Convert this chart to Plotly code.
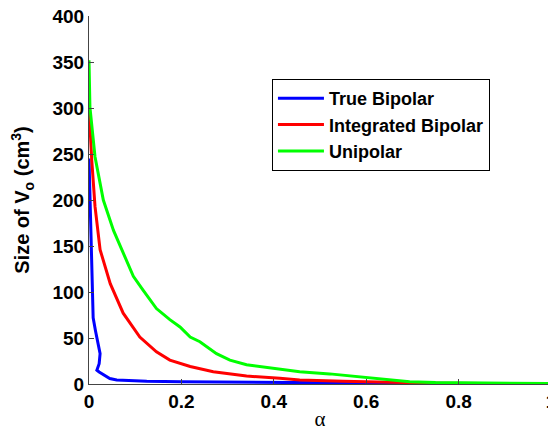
import plotly.graph_objects as go

# Data
true_bipolar_x = [0.0, 0.003, 0.006, 0.009, 0.014, 0.020, 0.024, 0.022, 0.017, 0.022, 0.031, 0.045, 0.060, 0.09, 0.125, 0.2, 0.3, 0.4, 0.5, 0.6, 0.7, 0.8, 0.9, 1.0]
true_bipolar_y = [245, 180, 120, 72, 58, 44, 33, 22, 15, 13, 10, 6, 4.3, 3.6, 3.0, 2.4, 1.9, 1.5, 1.2, 0.9, 0.7, 0.5, 0.4, 0.3]

integrated_x = [0.0, 0.003, 0.006, 0.013, 0.024, 0.046, 0.074, 0.110, 0.146, 0.175, 0.219, 0.269, 0.341, 0.413, 0.456, 0.55, 0.673, 0.75, 0.85, 1.0]
integrated_y = [300, 270, 243, 193, 146, 109, 77, 51, 35, 26, 19, 13.4, 8.7, 6.2, 4.3, 3.0, 1.4, 0.9, 0.6, 0.3]

unipolar_x = [0.0, 0.002, 0.013, 0.031, 0.053, 0.074, 0.096, 0.117, 0.146, 0.175, 0.197, 0.219, 0.240, 0.276, 0.305, 0.341, 0.413, 0.456, 0.521, 0.600, 0.694, 0.75, 0.85, 1.0]
unipolar_y = [352, 301, 247, 200, 167, 142, 117, 102, 82, 70, 62, 51, 46, 33, 26, 21, 16, 13.4, 11, 7, 2.5, 1.5, 1.0, 0.5]

series_names = ["True Bipolar", "Integrated Bipolar", "Unipolar"]
x_ticks = [0, 0.2, 0.4, 0.6, 0.8, 1]
x_tick_labels = ["0", "0.2", "0.4", "0.6", "0.8", "1"]
y_ticks = [0, 50, 100, 150, 200, 250, 300, 350, 400]
y_tick_labels = [str(v) for v in y_ticks]

FAM = "Liberation Sans, Arial, Helvetica, sans-serif"

fig = go.Figure()
fig.add_trace(go.Scatter(x=true_bipolar_x, y=true_bipolar_y, mode="lines", name="<b>" + series_names[0] + "</b>",
                         line=dict(color="#0000ff", width=3)))
fig.add_trace(go.Scatter(x=integrated_x, y=integrated_y, mode="lines", name="<b>" + series_names[1] + "</b>",
                         line=dict(color="#ff0000", width=3)))
fig.add_trace(go.Scatter(x=unipolar_x, y=unipolar_y, mode="lines", name="<b>" + series_names[2] + "</b>",
                         line=dict(color="#00ff00", width=3)))

# The page body has an 8px margin; the figure size compensates so the plot lands where the reference's does.
fig.update_layout(
    width=548, height=423,
    margin=dict(l=81, r=5, t=8, b=47, autoexpand=False),
    paper_bgcolor="white", plot_bgcolor="white",
    showlegend=True,
    legend=dict(
        x=0.396, y=0.829, xanchor="left", yanchor="top",
        bordercolor="black", borderwidth=1, bgcolor="white",
        font=dict(family=FAM, size=18, color="black"),
        tracegroupgap=0, itemwidth=46,
    ),
    xaxis=dict(
        range=[0, 1], tickvals=x_ticks, ticktext=["<b>" + t + "</b>" for t in x_tick_labels],
        showgrid=False, zeroline=False, showline=True, linecolor="#444", linewidth=1,
        ticks="inside", ticklen=5, tickcolor="#444", automargin=False,
        ticklabeloverflow="allow",
        tickfont=dict(family=FAM, size=19, color="black"),
        title=dict(text="α", font=dict(family="Liberation Serif, Times New Roman, serif", size=21, color="black"), standoff=6),
    ),
    yaxis=dict(
        range=[0, 400], tickvals=y_ticks, ticktext=["<b>" + t + "</b>" for t in y_tick_labels],
        showgrid=False, zeroline=False, showline=True, linecolor="#444", linewidth=1,
        ticks="inside", ticklen=5, tickcolor="#444", automargin=False,
        ticklabeloverflow="allow",
        tickfont=dict(family=FAM, size=19, color="black"),
        title=dict(text="<b>Size of V<sub>o</sub> (cm<sup>3</sup>)</b>",
                   font=dict(family=FAM, size=20, color="black"), standoff=17),
    ),
)

fig.write_html("out.html")
